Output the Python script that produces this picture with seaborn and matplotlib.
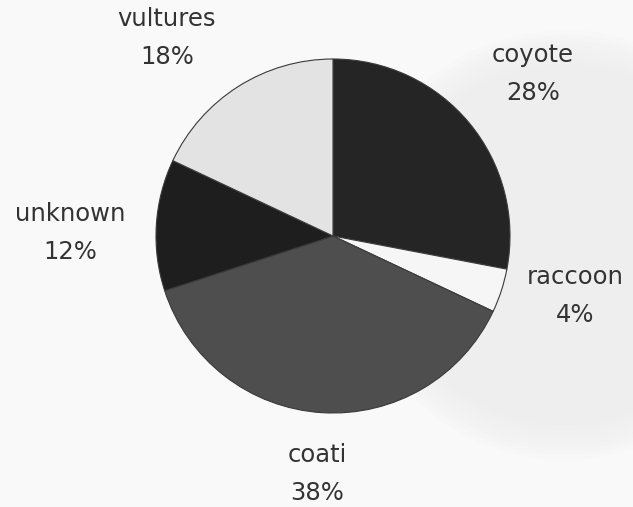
import matplotlib
matplotlib.use("Agg")
import matplotlib.pyplot as plt
import seaborn as sns
from matplotlib.patches import Circle

# Share of carcass visits by scavenger type
species = ["coyote", "raccoon", "coati", "unknown", "vultures"]
shares = [28, 4, 38, 12, 18]
pct_labels = ["28%", "4%", "38%", "12%", "18%"]

sns.set_theme(style="white")
plt.rcParams["font.family"] = ["DejaVu Sans"]

fills = ["#252525", "#f6f6f6", "#4e4e4e", "#1e1e1e", "#e3e3e3"]

W, H = 633, 507
fig = plt.figure(figsize=(W / 100, H / 100), dpi=100)
fig.patch.set_facecolor("#f9f9f9")
ax = fig.add_axes([0, 0, 1, 1])
ax.set_xlim(0, W)
ax.set_ylim(0, H)
ax.set_aspect("equal")
ax.axis("off")

# faint, soft-edged show-through of the facing page
for r in range(215, 175, -5):
    ax.add_patch(Circle((565, 262), r, facecolor="#d8d8d8", edgecolor="none",
                        alpha=0.035, zorder=0))

ax.pie(shares, colors=fills, startangle=90, counterclock=False,
       center=(333, H - 236), radius=177, frame=True,
       wedgeprops=dict(edgecolor="#3a3a3a", linewidth=0.8))
ax.set_xlim(0, W)
ax.set_ylim(0, H)
ax.axis("off")

# label anchors (name line, percentage line below)
anchors = {
    "coyote": (533, 55),
    "raccoon": (575, 277),
    "coati": (317, 455),
    "unknown": (70, 214),
    "vultures": (167, 19),
}
for name, pct in zip(species, pct_labels):
    x, y = anchors[name]
    ax.text(x, H - y, name, ha="center", va="center", fontsize=17.5,
            color="#333333")
    ax.text(x, H - y - 38, pct, ha="center", va="center", fontsize=17.5,
            color="#333333")

fig.savefig("out.png", dpi=100, facecolor=fig.get_facecolor())
